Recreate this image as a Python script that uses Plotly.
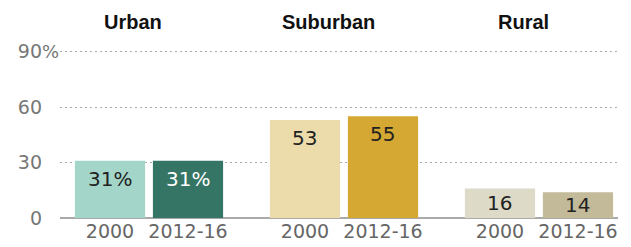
import plotly.graph_objects as go

groups = ["Urban", "Suburban", "Rural"]
periods = ["2000", "2012-16"]
values = [31, 31, 53, 55, 16, 14]
labels = ["31%", "31%", "53", "55", "16", "14"]
colors = ["#a3d5c8", "#357565", "#ecdcab", "#d4a832", "#dddac7", "#c3ba9a"]
label_colors = ["#222222", "#ffffff", "#222222", "#222222", "#222222", "#222222"]
y_ticks = [0, 30, 60, 90]
y_ticktext = ["0", "30", "60", "90"]
y_unit = "%"  # hangs after the top tick label

group_step = 2.5
xpos = []
xtext = []
for gi, g in enumerate(groups):
    for pi, p in enumerate(periods):
        xpos.append(gi * group_step + pi)
        xtext.append(p)

FONT = "DejaVu Sans, Verdana, sans-serif"

fig = go.Figure()
fig.add_trace(go.Bar(
    x=xpos, y=values, width=0.9,
    marker=dict(color=colors, line=dict(width=0)),
    hoverinfo="skip",
))

# value labels inside the bars, near the top (centred for short bars)
for x, v, lab, c in zip(xpos, values, labels, label_colors):
    if v < 20:
        ya, ys = v / 2, 0
    else:
        ya, ys = v, -18
    fig.add_annotation(
        x=x, y=ya, xref="x", yref="y", yshift=ys, yanchor="middle",
        text=lab, showarrow=False,
        font=dict(size=20, color=c, family=FONT),
    )

# hanging "%" after the top y tick label
fig.add_annotation(
    x=0, y=y_ticks[-1], xref="paper", yref="y", xanchor="left", yanchor="middle",
    xshift=-18, text=y_unit, showarrow=False, borderpad=0, borderwidth=0,
    font=dict(size=18, color="#777777", family=FONT),
)

for gi, g in enumerate(groups):
    fig.add_annotation(
        x=gi * group_step + 0.5 - 0.2, y=90, xref="x", yref="y",
        yshift=30, yanchor="middle", text="<b>" + g + "</b>", showarrow=False,
        font=dict(size=20, color="#111111", family="Liberation Sans, Arial, sans-serif"),
    )

fig.update_layout(
    width=631, height=247,
    margin=dict(l=60, r=13, t=48, b=29),
    paper_bgcolor="white", plot_bgcolor="white",
    showlegend=False,
    font=dict(family=FONT),
    xaxis=dict(
        range=[-0.641, 6.513], tickvals=xpos, ticktext=xtext,
        tickfont=dict(size=19, color="#666666"), showgrid=False,
        zeroline=False, showline=False, ticks="", ticklen=0,
        automargin=False,
    ),
    yaxis=dict(
        range=[0, 92], tickvals=y_ticks, ticktext=y_ticktext,
        tickfont=dict(size=19, color="#777777"),
        showgrid=True, gridcolor="#aaaaaa", griddash="2px,3px", gridwidth=1,
        zeroline=True, zerolinecolor="#aaaaaa", zerolinewidth=2,
        showline=False, ticks="", ticklabelstandoff=17, automargin=False,
    ),
)

fig.write_html(
    "out.html",
    config={"displayModeBar": False},
    post_script="document.body.style.margin='0';document.body.style.overflow='hidden';",
)
